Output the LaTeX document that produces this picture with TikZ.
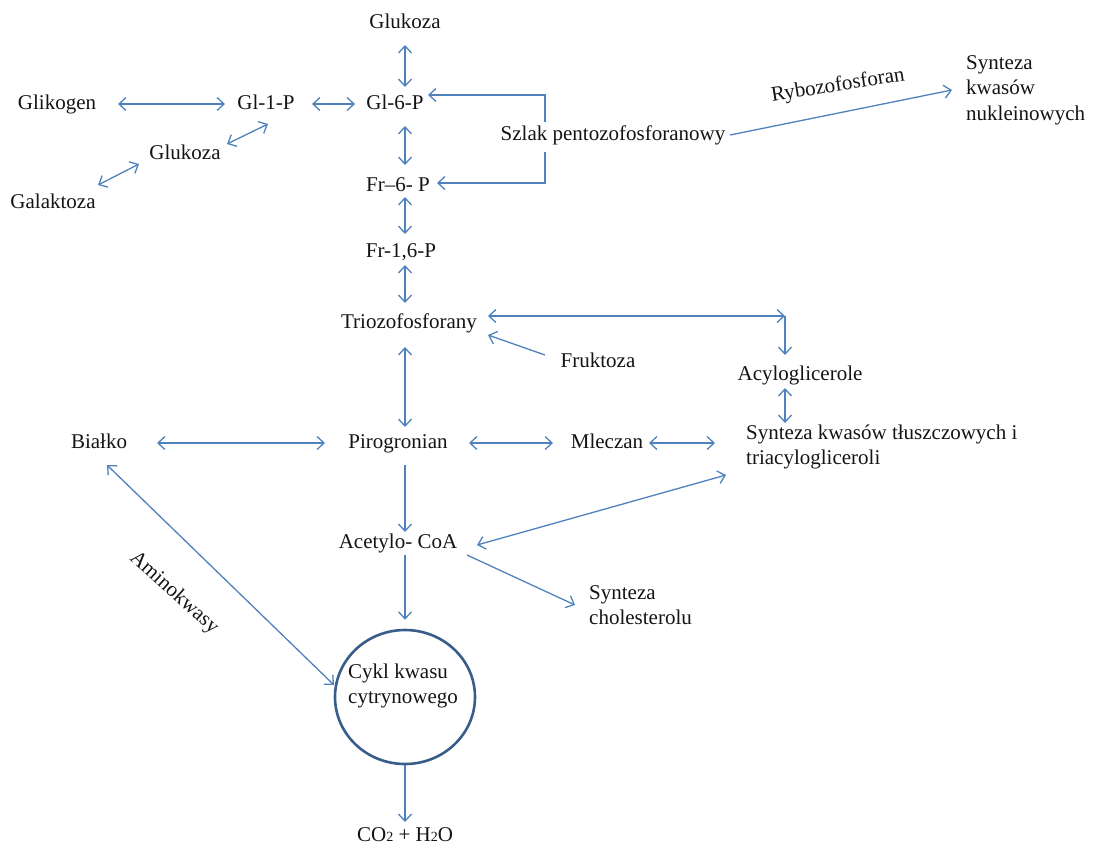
\documentclass[tikz,border=0pt]{standalone}
\usepackage{fontspec}
\setmainfont{Liberation Serif}
\usetikzlibrary{arrows.meta,shapes.geometric}
\definecolor{flow}{RGB}{79,129,189}
\definecolor{ring}{RGB}{56,93,138}
\definecolor{ink}{RGB}{20,20,20}
\tikzset{
  lbl/.style={font=\fontsize{21}{25.5}\selectfont, text=ink, inner sep=0pt,
              text height=14pt, text depth=4pt},
  blk/.style={font=\fontsize{21}{25.5}\selectfont, text=ink, inner sep=0pt, align=left},
  flowline/.style={draw=flow, line width=1.3pt},
  barb/.tip={Straight Barb[length=7pt,width=13pt]},
  uni/.style={flowline, -barb},
  bi/.style={flowline, barb-barb},
}
\begin{document}
\begin{tikzpicture}[x=1pt,y=-1pt]
\useasboundingbox (0,0) rectangle (1094,847);

% metabolites
\node[lbl] (glu1)   at (405,23)  {Glukoza};
\node[lbl] (glik)   at (57,104)  {Glikogen};
\node[lbl] (gl1)    at (266,104) {Gl-1-P};
\node[lbl] (gl6)    at (395,104) {Gl-6-P};
\node[lbl] (glu2)   at (185,154) {Glukoza};
\node[lbl] (gala)   at (53,203)  {Galaktoza};
\node[lbl] (fr6)    at (398,186) {Fr–6- P};
\node[lbl] (fr16)   at (401,252) {Fr-1,6-P};
\node[lbl] (trio)   at (409,323) {Triozofosforany};
\node[lbl] (frukt)  at (598,362) {Fruktoza};
\node[lbl] (acyl)   at (800,375) {Acyloglicerole};
\node[lbl] (bialko) at (99,443)  {Białko};
\node[lbl] (piro)   at (398,443) {Pirogronian};
\node[lbl] (mlecz)  at (607,443) {Mleczan};
\node[lbl] (acet)   at (398,543) {Acetylo- CoA};
\node[lbl] (szlak)  at (613,135) {Szlak pentozofosforanowy};
\node[blk, anchor=west] (nukl) at (966,90) {Synteza\\kwasów\\nukleinowych};
\node[blk, anchor=west] (synt) at (746,447) {Synteza kwasów tłuszczowych i\\triacylogliceroli};
\node[blk, anchor=west] (chol) at (589,605) {Synteza\\cholesterolu};
\node[lbl, rotate=9] (rybo) at (838,86) {Rybozofosforan};
\node[lbl, rotate=-42] (amino) at (174,593) {Aminokwasy};

% citric acid cycle
\node[ellipse, draw=ring, line width=2.6pt, minimum width=140pt, minimum height=134pt,
      inner sep=0pt] (cykl) at (405,697) {};
\node[blk, anchor=west] (cykltxt) at (348,686) {Cykl kwasu\\cytrynowego};
\node[lbl] (co2) at (405,836)
  {CO{\fontsize{14}{14}\selectfont 2} + H{\fontsize{14}{14}\selectfont 2}O};

% upper glycolysis and glycogen
\draw[bi] ([shift={(0,22)}]glu1.center) -- ([shift={(10,-17)}]gl6.center);
\draw[bi] ([shift={(61,0)}]glik.center) -- ([shift={(-41,0)}]gl1.center);
\draw[bi] ([shift={(46,0)}]gl1.center) -- ([shift={(-40,0)}]gl6.center);
\draw[bi] ([shift={(42,-10)}]glu2.center) -- ([shift={(2,20)}]gl1.center);
\draw[bi] ([shift={(45,-18)}]gala.center) -- ([shift={(-46,10)}]glu2.center);
\draw[bi] ([shift={(10,22)}]gl6.center) -- ([shift={(7,-21)}]fr6.center);
\draw[bi] ([shift={(7,11)}]fr6.center) -- ([shift={(4,-18)}]fr16.center);
\draw[bi] ([shift={(4,13)}]fr16.center) -- ([shift={(-4,-20)}]trio.center);

% pentose phosphate pathway
\draw[uni] ([shift={(-68,-13)}]szlak.center) |- ([shift={(33,-9)}]gl6.center);
\draw[uni] ([shift={(-68,17)}]szlak.center) |- ([shift={(39,-3)}]fr6.center);
\draw[uni] ([shift={(117,0)}]szlak.center) -- ([shift={(-14,0)}]nukl.west);

% triose phosphates and lipids
\draw[bi] ([shift={(79,-7)}]trio.center) -- ([shift={(-15,-59)}]acyl.center);
\draw[uni] ([shift={(-15,-59)}]acyl.center) -- ([shift={(-15,-20)}]acyl.center);
\draw[uni] ([shift={(-53,-7)}]frukt.center) -- ([shift={(79,12)}]trio.center);
\draw[bi] ([shift={(-4,24)}]trio.center) -- ([shift={(7,-16)}]piro.center);
\draw[bi] ([shift={(-15,13)}]acyl.center) -- ([shift={(39,-24)}]synt.west);

% pyruvate junction
\draw[bi] ([shift={(58,0)}]bialko.center) -- ([shift={(-73,0)}]piro.center);
\draw[bi] ([shift={(71,0)}]piro.center) -- ([shift={(-54,0)}]mlecz.center);
\draw[bi] ([shift={(42,0)}]mlecz.center) -- ([shift={(-31,-4)}]synt.west);
\draw[uni] ([shift={(7,22)}]piro.center) -- ([shift={(7,-11)}]acet.center);

% acetyl-CoA and the cycle
\draw[bi] ([shift={(-20,28)}]synt.west) -- ([shift={(79,2)}]acet.center);
\draw[uni] ([shift={(69,12)}]acet.center) -- ([shift={(-14,0)}]chol.west);
\draw[uni] ([shift={(7,12)}]acet.center) -- ([shift={(0,-9)}]cykl.north);
\draw[bi] ([shift={(8,22)}]bialko.center) -- ([shift={(-71,-12)}]cykl.center);
\draw[uni] (cykl.south) -- ([shift={(0,-14)}]co2.center);
\end{tikzpicture}
\end{document}
